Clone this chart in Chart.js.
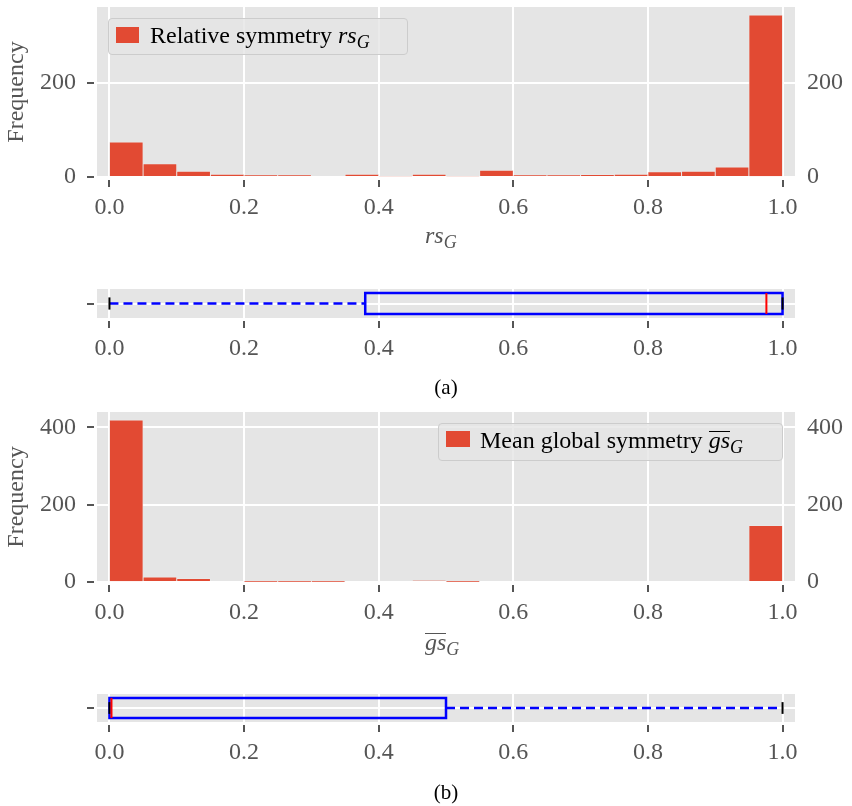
<!DOCTYPE html>
<html>
<head>
<meta charset="utf-8">
<script src="https://cdn.jsdelivr.net/npm/chart.js@4.4.1/dist/chart.umd.min.js"></script>
<style>
  body { margin: 0; background: #fff; }
  #wrap { position: relative; width: 852px; height: 806px; font-family: 'Liberation Serif', serif; }
  canvas { position: absolute; left: 0; }
  .txt { position: absolute; font-size: 24px; line-height: 1; white-space: nowrap; }
  .legend { position: absolute; box-sizing: border-box; background: rgba(229,229,229,0.8); border: 1px solid #cccccc; border-radius: 4px; }
  .patch { position: absolute; background: #E24A33; }
  .m { font-style: italic; }
  .sub { font-style: italic; font-size: 0.75em; position: relative; top: 0.3em; }
  .ov { font-style: italic; display: inline-block; line-height: 0.72em; border-top: 1.5px solid currentColor; }
</style>
</head>
<body>
<div id="wrap">
  <canvas id="histRs" width="852" height="260" style="top:0px"></canvas>
  <canvas id="boxRs" width="852" height="130" style="top:280px"></canvas>
  <canvas id="histGs" width="852" height="270" style="top:400px"></canvas>
  <canvas id="boxGs" width="852" height="122" style="top:684px"></canvas>

  <!-- legends and math labels (html so italics / subscripts work) -->
  <div class="legend" style="left:108px; top:18px; width:300px; height:37px;"></div>
  <div class="patch" style="left:116px; top:27px; width:23px; height:16px;"></div>
  <div class="txt" style="left:150px; top:23px; color:#000;">Relative symmetry <span class="m">rs</span><span class="sub">G</span></div>

  <div class="legend" style="left:438px; top:423px; width:345px; height:38px;"></div>
  <div class="patch" style="left:446px; top:431px; width:24px; height:16px;"></div>
  <div class="txt" style="left:480px; top:428px; color:#000;">Mean global symmetry <span class="ov">gs</span><span class="sub">G</span></div>

  <div class="txt" style="left:425px; top:223px; color:#555;"><span class="m">rs</span><span class="sub">G</span></div>
  <div class="txt" style="left:425px; top:630px; color:#555;"><span class="ov">gs</span><span class="sub">G</span></div>
</div>

<script>
// 데이터
const xTicks = [0, 0.2, 0.4, 0.6, 0.8, 1.0];
const binCenters = [0.025, 0.075, 0.125, 0.175, 0.225, 0.275, 0.325, 0.375, 0.425, 0.475,
                    0.525, 0.575, 0.625, 0.675, 0.725, 0.775, 0.825, 0.875, 0.925, 0.975];
const countsRs = [74, 28, 12, 6, 4, 4, 0, 6, 2, 6, 2, 14, 4, 4, 5, 6, 11, 12, 21, 343];
const countsGs = [419, 13, 9, 0, 1, 1, 1, 0, 0, 3, 1, 0, 0, 0, 0, 0, 0, 0, 0, 146];
const yTicksRs = [0, 200];
const yTicksGs = [0, 200, 400];
const yMaxRs = 360;
const yMaxGs = 440;
// box stats: lower whisker, Q1, median, Q3, upper whisker
const boxRs = [0, 0.38, 0.976, 1.0, 1.0];
const boxGs = [0, 0, 0.003, 0.5, 1.0];

const BAR_RED = '#E24A33';
const BLUE = '#0000FF';
const RED = '#FF0000';
const TICK_GRAY = '#555555';
const X_MIN = -0.0185;
const X_MAX = 1.0185;
const BOX_H = 0.72;  // half height of the box (y units, axis -1..1)
const CAP_H = 0.42;

Chart.defaults.font.family = "'Liberation Serif', serif";
Chart.defaults.font.size = 24;
Chart.defaults.color = TICK_GRAY;

// 회색 배경
const gridBg = {
    id: 'gridBg',
    beforeDraw(chart) {
        const {ctx, chartArea: a} = chart;
        ctx.save();
        ctx.fillStyle = '#E5E5E5';
        ctx.fillRect(a.left, a.top, a.right - a.left, a.bottom - a.top);
        ctx.restore();
    }
};

// 축 크기 고정 (라벨 때문에 생기는 여백 제거)
function fixSize(prop, size) {
    return s => {
        s[prop] = size;
        s.paddingTop = 0;
        s.paddingBottom = 0;
        s.paddingLeft = 0;
        s.paddingRight = 0;
    };
}

function xAxis(height, caption, captionPad) {
    return {
        type: 'linear',
        min: X_MIN,
        max: X_MAX,
        offset: false,
        afterBuildTicks: s => { s.ticks = xTicks.map(v => ({ value: v })); },
        afterFit: fixSize('height', height),
        grid: {
            color: '#ffffff', lineWidth: 2, offset: false,
            tickLength: 10, tickColor: TICK_GRAY, tickWidth: 2, tickBorderDash: [0, 3, 7, 0]
        },
        border: { display: false },
        ticks: { color: TICK_GRAY, padding: 6, maxRotation: 0, autoSkip: false, callback: v => v.toFixed(1) },
        title: caption ? {
            display: true, text: caption, color: '#000', font: { size: 21 },
            padding: { top: 0, bottom: captionPad }
        } : { display: false }
    };
}

function yAxisLeft(max, ticks, withTitle) {
    return {
        type: 'linear',
        position: 'left',
        min: 0,
        max: max,
        afterBuildTicks: s => { s.ticks = ticks.map(v => ({ value: v })); },
        afterFit: fixSize('width', 97),
        grid: {
            color: '#ffffff', lineWidth: 2,
            tickLength: 10, tickColor: TICK_GRAY, tickWidth: 2, tickBorderDash: [7, 3]
        },
        border: { display: false },
        ticks: { color: TICK_GRAY, padding: 11 },
        title: withTitle ? { display: true, text: 'Frequency', color: TICK_GRAY, padding: { top: 2 } } : { display: false }
    };
}

function makeHist(id, counts, yMax, yTicks, xHeight, padTop) {
    const ctx = document.getElementById(id).getContext('2d');
    return new Chart(ctx, {
        type: 'bar',
        data: {
            datasets: [{
                data: binCenters.map((x, i) => ({ x: x, y: counts[i] })),
                backgroundColor: BAR_RED,
                borderColor: 'rgba(238,238,238,0.7)',
                borderWidth: 0.8,
                barPercentage: 1,
                categoryPercentage: 1
            }]
        },
        options: {
            responsive: false,
            animation: false,
            layout: { padding: { top: padTop, left: 0, right: 0, bottom: 0 } },
            plugins: { legend: { display: false }, tooltip: { enabled: false } },
            scales: {
                x: xAxis(xHeight),
                y: yAxisLeft(yMax, yTicks, true),
                y2: {
                    type: 'linear',
                    position: 'right',
                    min: 0,
                    max: yMax,
                    afterBuildTicks: s => { s.ticks = yTicks.map(v => ({ value: v })); },
                    afterFit: fixSize('width', 57),
                    grid: { drawOnChartArea: false, drawTicks: false },
                    border: { display: false },
                    ticks: { color: TICK_GRAY, padding: 12 }
                }
            }
        },
        plugins: [gridBg]
    });
}

function seg(points, color, width, dash) {
    return {
        data: points,
        showLine: true,
        borderColor: color,
        borderWidth: width,
        borderDash: dash || [],
        borderJoinStyle: 'miter',
        borderCapStyle: 'butt',
        pointRadius: 0,
        fill: false,
        tension: 0
    };
}

// 박스플롯 (위에 그릴 것을 먼저)
function boxDatasets(stats) {
    const [lo, q1, med, q3, hi] = stats;
    const box = seg([{ x: q1, y: -BOX_H }, { x: q3, y: -BOX_H }, { x: q3, y: BOX_H },
                     { x: q1, y: BOX_H }, { x: q1, y: -BOX_H }], BLUE, 2.5);
    box.borderCapStyle = 'square';
    return [
        seg([{ x: med, y: -BOX_H }, { x: med, y: BOX_H }], RED, 2),
        seg([{ x: lo, y: -CAP_H }, { x: lo, y: CAP_H }], '#000', 2),
        seg([{ x: hi, y: -CAP_H }, { x: hi, y: CAP_H }], '#000', 2),
        box,
        seg([{ x: lo, y: 0 }, { x: q1, y: 0 }], BLUE, 2.5, [9, 5]),
        seg([{ x: q3, y: 0 }, { x: hi, y: 0 }], BLUE, 2.5, [9, 5])
    ];
}

function makeBox(id, stats, xHeight, padTop, caption, captionPad) {
    const ctx = document.getElementById(id).getContext('2d');
    return new Chart(ctx, {
        type: 'scatter',
        data: { datasets: boxDatasets(stats) },
        options: {
            responsive: false,
            animation: false,
            layout: { padding: { top: padTop, left: 0, right: 57, bottom: 0 } },
            plugins: { legend: { display: false }, tooltip: { enabled: false } },
            scales: {
                x: xAxis(xHeight, caption, captionPad),
                y: {
                    type: 'linear',
                    min: -1,
                    max: 1,
                    afterBuildTicks: s => { s.ticks = [{ value: 0 }]; },
                    afterFit: fixSize('width', 97),
                    grid: {
                        color: '#ffffff', lineWidth: 2,
                        tickLength: 10, tickColor: TICK_GRAY, tickWidth: 2, tickBorderDash: [7, 3]
                    },
                    border: { display: false },
                    ticks: { callback: () => '' }
                }
            }
        },
        plugins: [gridBg]
    });
}

makeHist('histRs', countsRs, yMaxRs, yTicksRs, 83, 7);
makeBox('boxRs', boxRs, 92, 9, '(a)', 9);
makeHist('histGs', countsGs, yMaxGs, yTicksGs, 88, 12);
makeBox('boxGs', boxGs, 84, 10, '(b)', 0);
</script>
</body>
</html>
